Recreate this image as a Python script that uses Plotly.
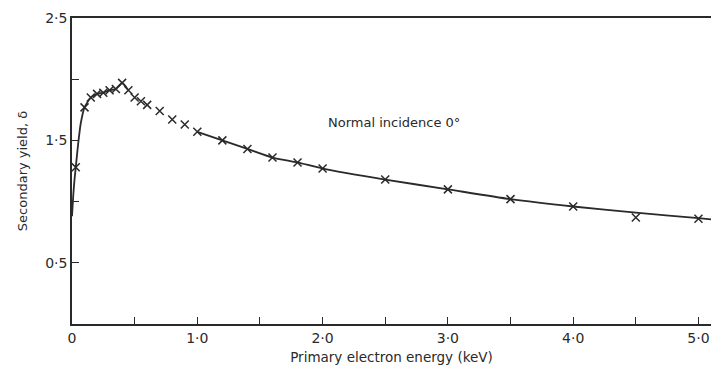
import plotly.graph_objects as go

# measured points (crosses)
energy_kev = [0.03, 0.1, 0.15, 0.2, 0.25, 0.3, 0.35, 0.4, 0.45, 0.5, 0.55, 0.6, 0.7, 0.8, 0.9,
              1.0, 1.2, 1.4, 1.6, 1.8, 2.0, 2.5, 3.0, 3.5, 4.0, 4.5, 5.0]
yield_delta = [1.28, 1.77, 1.85, 1.88, 1.89, 1.91, 1.92, 1.97, 1.91, 1.85, 1.82, 1.79, 1.74, 1.67, 1.63,
               1.57, 1.50, 1.43, 1.36, 1.32, 1.27, 1.18, 1.10, 1.02, 0.96, 0.87, 0.86]

# drawn curve (with a gap where only the crosses are shown)
curve_kev = [0.0, 0.01, 0.02, 0.03, 0.05, 0.07, 0.1, 0.15, 0.2, 0.25, 0.3, 0.35, 0.4, 0.45,
             None,
             1.0, 1.2, 1.4, 1.6, 1.8, 2.0, 2.5, 3.0, 3.5, 4.0, 4.5, 5.0, 5.1]
curve_delta = [0.88, 1.05, 1.18, 1.28, 1.48, 1.64, 1.77, 1.85, 1.88, 1.89, 1.91, 1.92, 1.97, 1.91,
               None,
               1.57, 1.50, 1.43, 1.36, 1.32, 1.27, 1.18, 1.10, 1.02, 0.96, 0.91, 0.865, 0.855]

x_tickvals = [0, 0.5, 1.0, 1.5, 2.0, 2.5, 3.0, 3.5, 4.0, 4.5, 5.0]
x_ticktext = ["0", "", "1·0", "", "2·0", "", "3·0", "", "4·0", "", "5·0"]
y_tickvals = [0.5, 1.0, 1.5, 2.0, 2.5]
y_ticktext = ["0·5", "", "1·5", "", "2·5"]

ink = "#2a2a2a"
font = "DejaVu Sans, Verdana, sans-serif"

fig = go.Figure()
fig.add_trace(go.Scatter(x=curve_kev, y=curve_delta, mode="lines",
                         line=dict(color=ink, width=1.8, shape="spline", smoothing=0.6),
                         connectgaps=False, hoverinfo="skip", showlegend=False))
fig.add_trace(go.Scatter(x=energy_kev, y=yield_delta, mode="markers",
                         marker=dict(symbol="x-thin", size=8, line=dict(color=ink, width=1.5)),
                         showlegend=False))

fig.add_annotation(x=2.57, y=1.65, text="Normal incidence 0°", showarrow=False,
                   font=dict(family=font, size=13, color=ink))

fig.update_layout(
    width=711, height=374,
    margin=dict(l=72, r=0, t=18, b=50),
    paper_bgcolor="white", plot_bgcolor="white",
    font=dict(family=font, size=13, color=ink),
)
fig.update_xaxes(range=[0, 5.1], tickvals=x_tickvals, ticktext=x_ticktext,
                 ticks="inside", ticklen=7, tickwidth=1.2, tickcolor=ink,
                 showline=True, linecolor=ink, linewidth=1.5, mirror=True,
                 showgrid=False, zeroline=False,
                 tickfont=dict(size=14),
                 title=dict(text="Primary electron energy (keV)", font=dict(size=13.5), standoff=8))
fig.update_yaxes(range=[0, 2.5], tickvals=y_tickvals, ticktext=y_ticktext,
                 ticks="inside", ticklen=7, tickwidth=1.2, tickcolor=ink,
                 showline=True, linecolor=ink, linewidth=1.5,
                 showgrid=False, zeroline=False,
                 tickfont=dict(size=14),
                 title=dict(text="Secondary yield, δ", font=dict(size=13), standoff=15))

fig.write_html("out.html")
